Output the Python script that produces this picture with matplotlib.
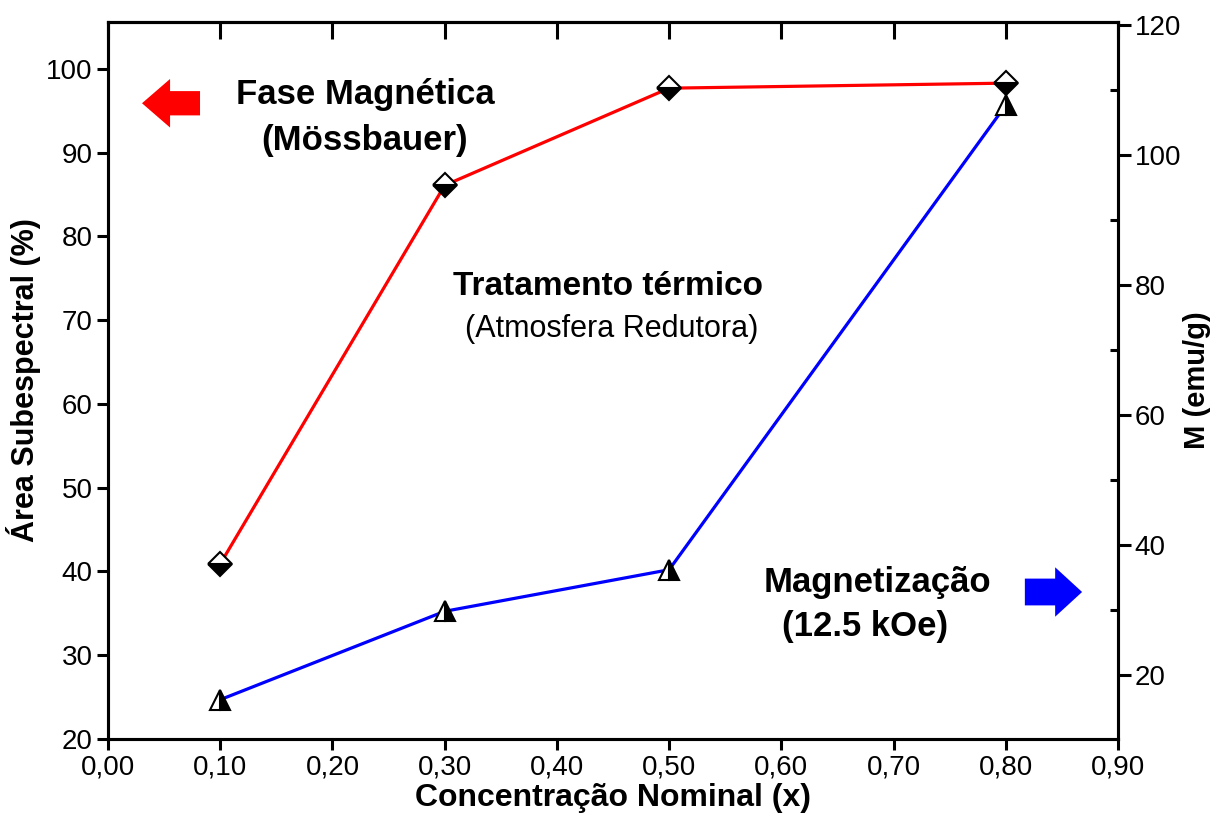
import matplotlib
matplotlib.use("Agg")
import matplotlib.pyplot as plt
from matplotlib.patches import FancyArrow
from matplotlib.ticker import MultipleLocator, AutoMinorLocator, FuncFormatter

plt.rcParams['font.family'] = ['Liberation Sans', 'DejaVu Sans']

# data
conc = [0.10, 0.30, 0.50, 0.80]
area_mag = [40.9, 86.1, 97.7, 98.3]      # left axis, Mössbauer
magnet = [16.2, 29.8, 36.2, 107.7]        # right axis, M (emu/g)

fig = plt.figure(figsize=(12.13, 8.15), dpi=100)
ax = fig.add_axes([108 / 1213, 1 - 739 / 815, (1118 - 108) / 1213, (739 - 22) / 815])
ax2 = ax.twinx()

ax.plot(conc, area_mag, color='red', lw=2.3, marker='D', ms=12.5,
        fillstyle='bottom', markerfacecolor='black', markerfacecoloralt='white',
        markeredgecolor='black', markeredgewidth=1.5, zorder=3)
ax2.plot(conc, magnet, color='blue', lw=2.3, marker='^', ms=15,
         fillstyle='right', markerfacecolor='black', markerfacecoloralt='white',
         markeredgecolor='black', markeredgewidth=1.5, zorder=3)

ax.set_xlim(0, 0.9)
ax.set_ylim(20, 105.6)
ax2.set_ylim(10.15, 120.5)

ax.xaxis.set_major_locator(MultipleLocator(0.1))
ax.xaxis.set_major_formatter(FuncFormatter(lambda v, p: f"{v:.2f}".replace('.', ',')))
ax.yaxis.set_major_locator(MultipleLocator(10))
ax2.yaxis.set_major_locator(MultipleLocator(20))
ax2.yaxis.set_minor_locator(AutoMinorLocator(2))

ax.tick_params(axis='both', direction='out', length=8, width=2.2, labelsize=20, pad=3)
ax2.tick_params(axis='y', which='major', direction='out', length=9, width=2.2, labelsize=20, pad=3)
ax2.tick_params(axis='y', which='minor', direction='in', length=6, width=2.2)

top = ax.secondary_xaxis('top')
top.xaxis.set_major_locator(MultipleLocator(0.1))
top.tick_params(direction='in', length=12, width=2.2, labeltop=False)

for a in (ax, ax2, top):
    for s in a.spines.values():
        s.set_linewidth(2.2)

ax.set_xlabel("Concentração Nominal (x)", fontsize=23, fontweight='bold', labelpad=2)
ax.set_ylabel("Área Subespectral (%)", fontsize=22, fontweight='bold', labelpad=4)
ax2.set_ylabel("M (emu/g)", fontsize=21, fontweight='bold', labelpad=1)

ax.text(0.229, 96.9, "Fase Magnética", fontsize=25, fontweight='bold', ha='center', va='center')
ax.text(0.229, 91.5, "(Mössbauer)", fontsize=25, fontweight='bold', ha='center', va='center')
ax.text(0.4455, 74.0, "Tratamento térmico", fontsize=24, fontweight='bold', ha='center', va='center')
ax.text(0.449, 69.0, "(Atmosfera Redutora)", fontsize=22, ha='center', va='center')
ax.text(0.686, 38.7, "Magnetização", fontsize=25, fontweight='bold', ha='center', va='center')
ax.text(0.6745, 33.4, "(12.5 kOe)", fontsize=25, fontweight='bold', ha='center', va='center')

# block arrows
ax.add_patch(FancyArrow(0.0820, 95.9, -0.0517, 0, width=2.9, head_width=5.8,
                        head_length=0.025, length_includes_head=True,
                        color='red', lw=0))
ax.add_patch(FancyArrow(0.817, 37.55, 0.051, 0, width=3.2, head_width=5.9,
                        head_length=0.024, length_includes_head=True,
                        color='blue', lw=0))

fig.savefig("out.png", dpi=100)
